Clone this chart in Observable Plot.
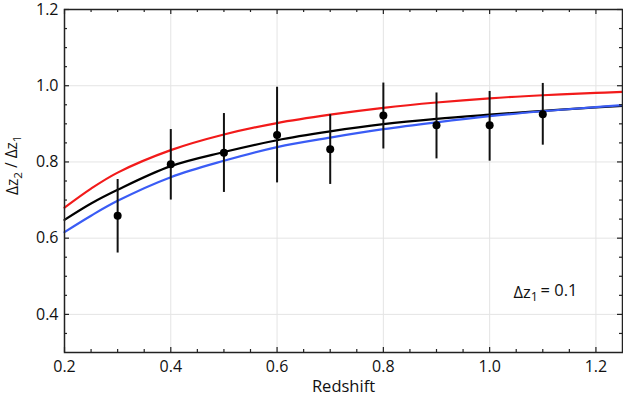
<!DOCTYPE html>
<html><head><meta charset="utf-8">
<script src="https://cdn.jsdelivr.net/npm/d3@7"></script>
<script src="https://cdn.jsdelivr.net/npm/@observablehq/plot@0.6"></script>
<style>body{margin:0;background:#fff;}</style>
</head><body><div id="chart"></div>
<script>
// Model curves (redshift vs ratio)
const curveZ     = [0.2, 0.25, 0.3, 0.4, 0.5, 0.6, 0.7, 0.8, 0.9, 1.0, 1.1, 1.2, 1.25];
const redModel   = [0.680, 0.730, 0.772, 0.831, 0.872, 0.902, 0.924, 0.942, 0.956, 0.967, 0.975, 0.981, 0.984];
const blackModel = [0.648, 0.691, 0.727, 0.789, 0.826, 0.857, 0.880, 0.899, 0.913, 0.924, 0.934, 0.943, 0.947];
const blueModel  = [0.616, 0.659, 0.698, 0.760, 0.803, 0.839, 0.864, 0.886, 0.904, 0.920, 0.933, 0.944, 0.949];

// Measurements with error bars
const obsZ     = [0.3, 0.4, 0.5, 0.6, 0.7, 0.8, 0.9, 1.0, 1.1];
const obsRatio = [0.659, 0.794, 0.824, 0.871, 0.833, 0.922, 0.896, 0.896, 0.925];
const obsLow   = [0.561, 0.700, 0.720, 0.745, 0.741, 0.834, 0.808, 0.802, 0.844];
const obsHigh  = [0.754, 0.885, 0.927, 0.996, 0.924, 1.007, 0.981, 0.985, 1.006];

// Ticks
const xMajor = [0.2, 0.4, 0.6, 0.8, 1.0, 1.2];
const xMinor = [0.25, 0.3, 0.35, 0.45, 0.5, 0.55, 0.65, 0.7, 0.75, 0.85, 0.9, 0.95, 1.05, 1.1, 1.15];
const yMajor = [0.4, 0.6, 0.8, 1.0, 1.2];
const yMinor = [0.35, 0.45, 0.5, 0.55, 0.65, 0.7, 0.75, 0.85, 0.9, 0.95, 1.05, 1.1, 1.15];

const curves = [];
const models = [["red", redModel], ["black", blackModel], ["blue", blueModel]];
for (const [name, vals] of models) curveZ.forEach((z, i) => curves.push({model: name, z, v: vals[i]}));
const obs = obsZ.map((z, i) => ({z, v: obsRatio[i], lo: obsLow[i], hi: obsHigh[i]}));

const W = 623, H = 401, mt = 9, mr = 1, mb = 49, ml = 64;
const innerW = W - ml - mr, innerH = H - mt - mb;
const majLen = 5, minLen = 3;
const tickStyle = {stroke: "#222", strokeWidth: 1.2};

const colors = {red: "#f21a1a", black: "#000000", blue: "#3a5cf5"};
const FONT = "'Open Sans', 'Noto Sans', sans-serif";

const plot = Plot.plot({
  width: W, height: H,
  marginTop: mt, marginRight: mr, marginBottom: mb, marginLeft: ml,
  style: {fontFamily: FONT, fontSize: "16px", background: "#fff", color: "#111"},
  x: {domain: [0.2, 1.25]},
  y: {domain: [0.3, 1.2]},
  marks: [
    Plot.gridX(xMajor, {stroke: "#e4e4e4", strokeOpacity: 1}),
    Plot.gridY(yMajor, {stroke: "#e4e4e4", strokeOpacity: 1}),
    Plot.line(curves.filter(d => d.model === "red"), {x: "z", y: "v", stroke: colors.red, strokeWidth: 2.2, curve: "catmull-rom"}),
    Plot.line(curves.filter(d => d.model === "black"), {x: "z", y: "v", stroke: colors.black, strokeWidth: 2.2, curve: "catmull-rom"}),
    Plot.line(curves.filter(d => d.model === "blue"), {x: "z", y: "v", stroke: colors.blue, strokeWidth: 2.2, curve: "catmull-rom"}),
    Plot.ruleX(obs, {x: "z", y1: "lo", y2: "hi", stroke: "#111", strokeWidth: 2}),
    Plot.dot(obs, {x: "z", y: "v", r: 4, fill: "#000", stroke: null}),
    // inward ticks: bottom, top, left, right
    Plot.ruleX(xMajor, {x: d => d, insetTop: innerH - majLen, ...tickStyle}),
    Plot.ruleX(xMinor, {x: d => d, insetTop: innerH - minLen, ...tickStyle}),
    Plot.ruleX(xMajor, {x: d => d, insetBottom: innerH - majLen, ...tickStyle}),
    Plot.ruleX(xMinor, {x: d => d, insetBottom: innerH - minLen, ...tickStyle}),
    Plot.ruleY(yMajor, {y: d => d, insetRight: innerW - majLen, ...tickStyle}),
    Plot.ruleY(yMinor, {y: d => d, insetRight: innerW - minLen, ...tickStyle}),
    Plot.ruleY(yMajor, {y: d => d, insetLeft: innerW - majLen, ...tickStyle}),
    Plot.ruleY(yMinor, {y: d => d, insetLeft: innerW - minLen, ...tickStyle}),
    Plot.frame({stroke: "#222", strokeWidth: 1.5}),
    Plot.axisX(xMajor, {tickSize: 0, tickPadding: 8, tickFormat: d3.format(".1f"), label: null, fontSize: 16}),
    Plot.axisY(yMajor, {tickSize: 0, tickPadding: 6, tickFormat: d3.format(".1f"), label: null, fontSize: 16}),
    Plot.text(["Redshift"], {frameAnchor: "bottom", dy: 39, fontSize: 16.5}),
    Plot.text(["Δz2 / Δz1"], {frameAnchor: "left", dx: -51, dy: 14, rotate: -90, fontSize: 15.5, className: "ylab"}),
    Plot.text(["Δz1 = 0.1"], {x: 1.105, y: 0.458, fontSize: 16.5, className: "annot"})
  ]
});

document.getElementById("chart").appendChild(plot);

// subscripts
const sub = (n) => `<tspan dy="0.3em" font-size="0.75em">${n}</tspan>`;
d3.select(plot).select("g.ylab text").html(`Δz${sub(2)}<tspan dy="-0.3em"> / Δz</tspan>${sub(1)}`);
d3.select(plot).select("g.annot text").html(`Δz${sub(1)}<tspan dy="-0.3em">\u2009= 0.1</tspan>`);
</script>
</body></html>
